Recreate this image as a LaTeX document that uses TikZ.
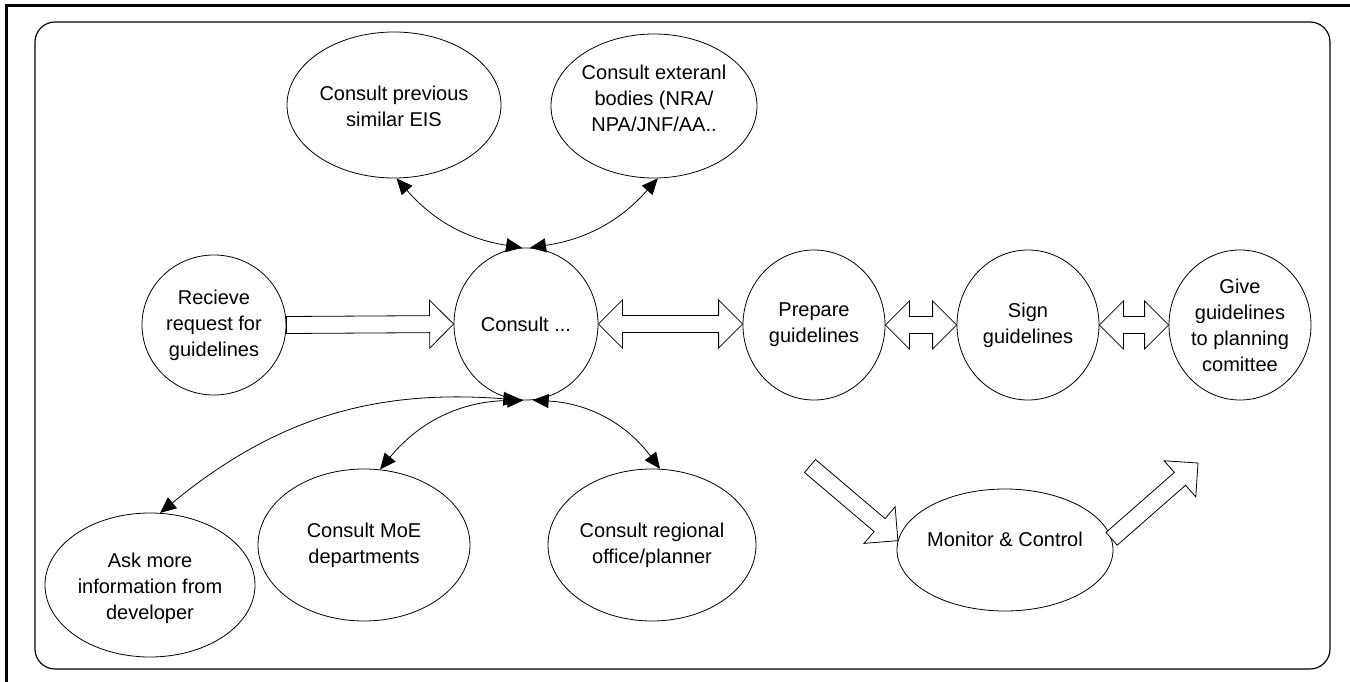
\documentclass[tikz,border=0pt]{standalone}
\usepackage{fontspec}
\setmainfont{Liberation Sans}
\usetikzlibrary{shapes.geometric,arrows.meta,calc}

% block arrow with one head, from #1 (tail) to #2 (tip)
\newcommand\blkone[2]{%
  \draw[blk] ($(#1)!8.5pt!90:(#2)$) -- ($($(#2)!24pt!(#1)$)!8.5pt!-90:(#1)$)
    -- ($($(#2)!24pt!(#1)$)!24pt!-90:(#1)$) -- (#2)
    -- ($($(#2)!24pt!(#1)$)!24pt!90:(#1)$) -- ($($(#2)!24pt!(#1)$)!8.5pt!90:(#1)$)
    -- ($(#1)!8.5pt!-90:(#2)$) -- cycle;}

% horizontal block arrow with heads at both ends
\newcommand\dblarr[2]{%
  \draw[blk] let \p1=(#1.east), \p2=(#2.west) in
    (\x1,\y1) -- (\x1+24pt,\y1+24pt) -- (\x1+24pt,\y1+8.5pt) -- (\x2-24pt,\y1+8.5pt)
    -- (\x2-24pt,\y1+24pt) -- (\x2,\y1) -- (\x2-24pt,\y1-24pt) -- (\x2-24pt,\y1-8.5pt)
    -- (\x1+24pt,\y1-8.5pt) -- (\x1+24pt,\y1-24pt) -- cycle;}

\begin{document}
\begin{tikzpicture}[x=1pt,y=-1pt,
  bubble/.style={draw,ellipse,inner sep=0pt,line width=0.8pt},
  txt/.style={font=\fontsize{20}{26}\selectfont,align=center,inner sep=0pt},
  link/.style={line width=0.8pt,{Triangle[length=16pt,width=14pt]}-{Triangle[length=16pt,width=14pt]}},
  blk/.style={draw,line width=0.8pt,fill=white,line join=miter}]
\useasboundingbox (0,0) rectangle (1350,682);

% page frame and panel
\draw[line width=3pt] (6,682) -- (6,6) -- (1350,6);
\draw[line width=1.2pt,rounded corners=20pt] (35,22) rectangle (1330,669);

% process bubbles
\node[bubble,minimum width=214,minimum height=146] (prev) at (394,105) {};
\node[bubble,minimum width=206,minimum height=144] (ext) at (654,106) {};
\node[bubble,minimum width=144,minimum height=140] (recv) at (214,325) {};
\node[bubble,minimum width=144,minimum height=152] (cons) at (526,324) {};
\node[bubble,minimum width=142,minimum height=150] (prep) at (814,325) {};
\node[bubble,minimum width=142,minimum height=150] (sign) at (1028,325) {};
\node[bubble,minimum width=142,minimum height=150] (give) at (1240,325) {};
\node[bubble,minimum width=210,minimum height=144] (ask) at (150,585) {};
\node[bubble,minimum width=212,minimum height=152] (moe) at (364,545) {};
\node[bubble,minimum width=208,minimum height=152] (reg) at (652,545) {};
\node[bubble,minimum width=216,minimum height=122] (mon) at (1005,550) {};

% bubble texts
\node[txt] (prevT) at (394,106) {Consult previous\\similar EIS};
\node[txt] (extT) at (654,98) {Consult exteranl\\bodies (NRA/\\NPA/JNF/AA..};
\node[txt] (recvT) at (214,325) {Recieve\\request for\\guidelines};
\node[txt] (consT) at (526,324) {Consult ...};
\node[txt] (prepT) at (814,325) {Prepare\\guidelines};
\node[txt] (signT) at (1028,325) {Sign\\guidelines};
\node[txt] (giveT) at (1240,325) {Give\\guidelines\\to planning\\comittee};
\node[txt] (askT) at (150,588) {Ask more\\information from\\developer};
\node[txt] (moeT) at (364,545) {Consult MoE\\departments};
\node[txt] (regT) at (652,545) {Consult regional\\office/planner};
\node[txt] (monT) at (1005,539) {Monitor \& Control};

% main flow
\blkone{recv.east}{cons.west}
\dblarr{cons}{prep}
\dblarr{prep}{sign}
\dblarr{sign}{give}

% monitoring arrows
\coordinate (monIn) at (810,466);
\coordinate (monOut) at (1198,463);
\blkone{monIn}{mon.175}
\blkone{mon.6}{monOut}

% consultation links
\draw[link] (prev.-88) to[bend right=20] (cons.93);
\draw[link] (cons.87) to[bend right=20] (ext.-87);
\draw[link] (cons.-95) to[bend right=22] (ask.82);
\draw[link] (cons.-92) to[bend right=25] (moe.78);
\draw[link] (cons.-85) to[bend left=25] (reg.84);
\end{tikzpicture}
\end{document}
